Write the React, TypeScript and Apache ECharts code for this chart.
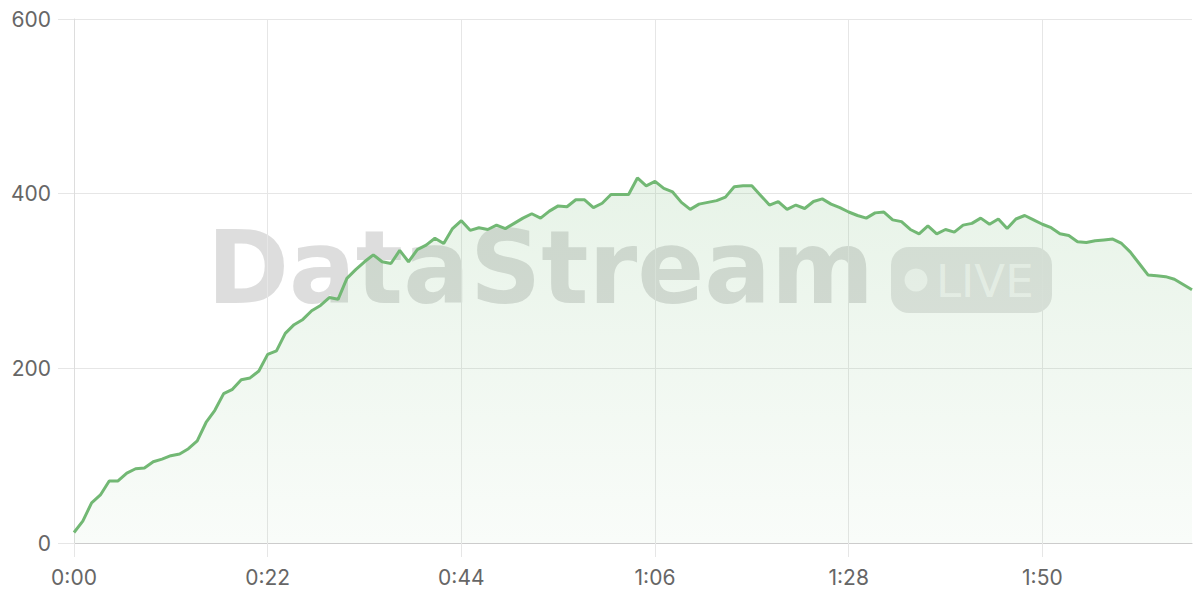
import React, { useEffect, useRef } from "react";
import * as echarts from "echarts";

// one sample per second, 0:00 .. 2:07
const values: number[] = [
  12, 25, 46, 55, 71, 71, 80, 85, 86, 93, 96, 100, 102, 108, 117, 138, 152, 171, 176, 187, 189, 197,
  216, 220, 240, 250, 256, 266, 272, 281, 279, 303, 313, 322, 330, 322, 320, 335, 322, 336, 341, 349,
  343, 360, 369, 358, 361, 359, 364, 360, 366, 372, 377, 372, 380, 386, 385, 393, 393, 384, 389, 399,
  399, 399, 418, 409, 414, 406, 402, 390, 382, 388, 390, 392, 396, 408, 409, 409, 398, 387, 391, 382,
  387, 383, 391, 394, 388, 384, 379, 375, 372, 378, 379, 370, 368, 359, 354, 363, 354, 359, 356, 364,
  366, 372, 365, 371, 360, 371, 375, 370, 365, 361, 354, 352, 345, 344, 346, 347, 348, 343, 333, 320,
  307, 306, 305, 302, 296, 290,
];

const fmtTime = (s: number) => `${Math.floor(s / 60)}:${String(s % 60).padStart(2, "0")}`;
const categories: string[] = values.map((_, i) => fmtTime(i));

const yTicks = { min: 0, max: 600, interval: 200 };
const xLabelEvery = 22;

const watermarkText = "DataStream";
const badgeText = "LIVE";

export default function App() {
  const ref = useRef<HTMLDivElement>(null);
  useEffect(() => {
    if (!ref.current) return;
    const chart = echarts.init(ref.current, undefined, { renderer: "svg" });
    const labelFont = "Inter, 'Noto Sans', sans-serif";
    chart.setOption({
      animation: false,
      grid: { left: 74, right: 8, top: 19, bottom: 57, containLabel: false },
      graphic: [
        {
          type: "text",
          z: 0,
          x: 207,
          y: 217,
          scaleX: 0.97,
          style: {
            text: watermarkText,
            x: 0,
            y: 0,
            verticalAlign: "top",
            fontSize: 102,
            fontWeight: "bold",
            fontFamily: "DejaVu Sans",
            fill: "rgba(120,120,120,0.25)",
          },
        },
        {
          type: "rect",
          z: 0,
          shape: { x: 891, y: 247, width: 161, height: 66, r: 18 },
          style: { fill: "rgba(120,120,120,0.2)" },
        },
        {
          type: "circle",
          z: 0,
          shape: { cx: 916, cy: 280, r: 11.5 },
          style: { fill: "rgba(255,255,255,0.65)" },
        },
        {
          type: "text",
          z: 0,
          x: 936,
          y: 281,
          style: {
            text: badgeText,
            x: 0,
            y: 0,
            verticalAlign: "middle",
            fontSize: 45,
            fontWeight: "normal",
            fontFamily: "DejaVu Sans",
            fill: "rgba(255,255,255,0.65)",
          },
        },
      ],
      xAxis: {
        type: "category",
        data: categories,
        boundaryGap: false,
        axisLine: { show: true, lineStyle: { color: "#cccccc", width: 1 } },
        axisTick: {
          show: true,
          interval: xLabelEvery - 1,
          length: 14,
          lineStyle: { color: "#e6e6e6" },
        },
        axisLabel: {
          interval: xLabelEvery - 1,
          margin: 24,
          color: "#666666",
          fontSize: 21,
          fontFamily: labelFont,
        },
        splitLine: {
          show: true,
          interval: xLabelEvery - 1,
          lineStyle: { color: "#e6e6e6", width: 1 },
        },
      },
      yAxis: {
        type: "value",
        min: yTicks.min,
        max: yTicks.max,
        interval: yTicks.interval,
        axisLine: { show: true, lineStyle: { color: "#dddddd" } },
        axisTick: { show: true, length: 16, lineStyle: { color: "#e6e6e6" } },
        axisLabel: {
          margin: 23,
          color: "#666666",
          fontSize: 21,
          fontFamily: labelFont,
        },
        splitLine: { show: true, lineStyle: { color: "#e6e6e6", width: 1 } },
      },
      series: [
        {
          type: "line",
          data: values,
          showSymbol: false,
          symbol: "none",
          z: 2,
          lineStyle: { color: "#72b874", width: 3 },
          itemStyle: { color: "#72b874" },
          areaStyle: {
            color: new echarts.graphic.LinearGradient(0, 0, 0, 1, [
              { offset: 0, color: "rgba(114,184,116,0.24)" },
              { offset: 1, color: "rgba(114,184,116,0.06)" },
            ]),
          },
        },
      ],
    });
    return () => chart.dispose();
  }, []);
  return <div ref={ref} style={{ width: 1200, height: 600, position: "absolute", left: 0, top: 0 }} />;
}
